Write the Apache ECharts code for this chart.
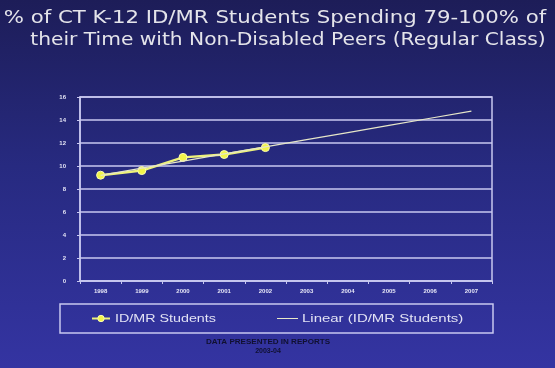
<!DOCTYPE html>
<html>
<head>
<meta charset="utf-8">
<script src="https://cdn.jsdelivr.net/npm/echarts@6/dist/echarts.min.js"></script>
<style>
  html, body { margin: 0; padding: 0; background: #23236a; }
  #chart { width: 555px; height: 368px; }
</style>
</head>
<body>
<div id="chart"></div>
<script>
// School years on the category axis
const years = ['1998', '1999', '2000', '2001', '2002', '2003', '2004', '2005', '2006', '2007'];
// Percent of ID/MR students in regular class (first five years reported)
const idmrValues = [9.2, 9.6, 10.75, 11.0, 11.6];
// Y axis ticks
const yTicks = [0, 2, 4, 6, 8, 10, 12, 14, 16];

// Least-squares linear trend over the reported years, extended across all years
function linearTrend(values, count) {
  const n = values.length;
  let sx = 0, sy = 0, sxy = 0, sxx = 0;
  values.forEach((v, i) => { sx += i; sy += v; sxy += i * v; sxx += i * i; });
  const slope = (n * sxy - sx * sy) / (n * sxx - sx * sx);
  const icpt = (sy - slope * sx) / n;
  const out = [];
  for (let i = 0; i < count; i++) out.push(+(icpt + slope * i).toFixed(3));
  return out;
}
const trendValues = linearTrend(idmrValues, years.length);

const chart = echarts.init(document.getElementById('chart'), null, { renderer: 'canvas' });

const sans = 'Liberation Sans, Arial, sans-serif';
const axisText = { color: '#e6e6f6', fontSize: 6, fontWeight: 'bold', fontFamily: sans };
const titleStyle = { fill: '#e4e4ea', fontSize: 17, fontFamily: 'DejaVu Sans, sans-serif', align: 'center', verticalAlign: 'middle' };
const legendText = { fill: '#e2e2f4', fontSize: 11, fontFamily: sans, verticalAlign: 'middle' };

chart.setOption({
  animation: false,
  backgroundColor: {
    type: 'linear', x: 0, y: 0, x2: 0, y2: 1,
    colorStops: [
      { offset: 0, color: '#1d1d58' },
      { offset: 0.45, color: '#272a80' },
      { offset: 1, color: '#3434a2' }
    ]
  },
  grid: {
    left: 80, right: 63, top: 97, bottom: 87,
    show: true,
    borderColor: '#c8c8f0',
    borderWidth: 1.5,
    backgroundColor: 'transparent'
  },
  xAxis: {
    type: 'category',
    data: years,
    boundaryGap: true,
    axisLine: { show: true, lineStyle: { color: '#c8c8f0', width: 1.5 } },
    axisTick: { show: true, length: 3, lineStyle: { color: '#c8c8f0' } },
    axisLabel: Object.assign({ margin: 7 }, axisText),
    splitLine: { show: false }
  },
  yAxis: {
    type: 'value',
    min: yTicks[0],
    max: yTicks[yTicks.length - 1],
    interval: 2,
    axisLine: { show: true, lineStyle: { color: '#c8c8f0', width: 1.5 } },
    axisTick: { show: true, length: 3, lineStyle: { color: '#c8c8f0' } },
    axisLabel: Object.assign({ margin: 14 }, axisText),
    splitLine: { show: true, lineStyle: { color: '#c8c8f0', width: 1.5 } }
  },
  legend: { show: false },
  graphic: [
    // two-line title, stretched horizontally
    { type: 'text', x: 275, y: 19, scaleX: 1.25, style: Object.assign({ text: '% of CT K-12 ID/MR Students Spending 79-100% of' }, titleStyle) },
    { type: 'text', x: 288, y: 41, scaleX: 1.19, style: Object.assign({ text: 'their Time with Non-Disabled Peers (Regular Class)' }, titleStyle) },
    // legend frame
    {
      type: 'rect',
      shape: { x: 60, y: 304, width: 433, height: 29 },
      style: { fill: 'transparent', stroke: '#c8c8f0', lineWidth: 1.5 }
    },
    // legend: ID/MR Students
    { type: 'line', shape: { x1: 92, y1: 318.5, x2: 110, y2: 318.5 }, style: { stroke: '#eef27a', lineWidth: 2 } },
    { type: 'circle', shape: { cx: 101, cy: 318.5, r: 3.2 }, style: { fill: '#f2f54a', stroke: '#fbfcb0', lineWidth: 1 } },
    { type: 'text', x: 115, y: 318.5, scaleX: 1.3, style: Object.assign({ text: 'ID/MR Students' }, legendText) },
    // legend: linear trend
    { type: 'line', shape: { x1: 277, y1: 318.5, x2: 298, y2: 318.5 }, style: { stroke: '#e8e8c8', lineWidth: 1 } },
    { type: 'text', x: 302, y: 318.5, scaleX: 1.36, style: Object.assign({ text: 'Linear (ID/MR Students)' }, legendText) },
    // source note
    { type: 'text', x: 268, y: 342, scaleX: 1.15, style: { x: 0, y: 0, text: 'DATA PRESENTED IN REPORTS', fill: '#101030', fontSize: 7, fontWeight: 'bold', fontFamily: sans, align: 'center', verticalAlign: 'middle' } },
    { type: 'text', x: 268, y: 351, style: { x: 0, y: 0, text: '2003-04', fill: '#101030', fontSize: 7, fontWeight: 'bold', fontFamily: sans, align: 'center', verticalAlign: 'middle' } }
  ],
  series: [
    {
      name: 'ID/MR Students',
      type: 'line',
      data: idmrValues,
      symbol: 'circle',
      symbolSize: 8,
      lineStyle: { color: '#eef27a', width: 2.5 },
      itemStyle: { color: '#f2f54a', borderColor: '#fbfcb0', borderWidth: 1 },
      z: 3
    },
    {
      name: 'Linear (ID/MR Students)',
      type: 'line',
      data: trendValues,
      symbol: 'none',
      lineStyle: { color: '#e6e6c8', width: 1.2 },
      z: 4
    }
  ]
});
</script>
</body>
</html>
